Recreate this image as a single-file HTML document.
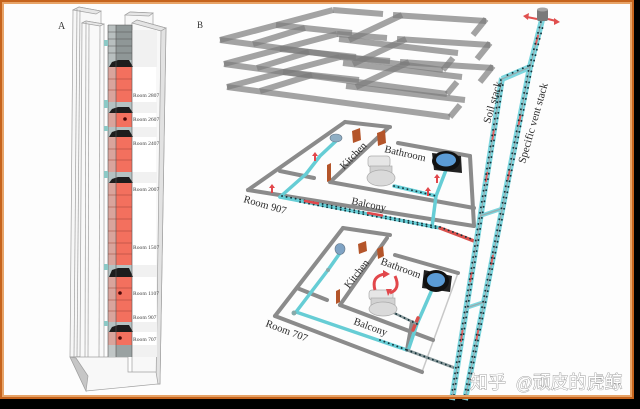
<!DOCTYPE html>
<html><head><meta charset="utf-8">
<style>
html,body{margin:0;padding:0;background:#000;}
svg{display:block;}
text{font-family:"Liberation Serif",serif;}
</style></head><body>
<svg width="640" height="409" viewBox="0 0 640 409" xmlns="http://www.w3.org/2000/svg">
<defs>
<path id="ua" d="M-1,0 L1,0 L1,-5 L3,-5 L0,-9 L-3,-5 L-1,-5Z" fill="#e2474b"/>
<g id="slab" fill="none" stroke="#7c7c7c" stroke-opacity="0.7" stroke-width="6">
 <line x1="227" y1="87" x2="450" y2="117"/>
 <line x1="227" y1="87" x2="340" y2="57"/>
 <line x1="340" y1="57" x2="390" y2="61"/>
 <line x1="400" y1="62" x2="493" y2="68"/>
 <line x1="493" y1="66" x2="480" y2="82"/>
 <line x1="450" y1="117" x2="460" y2="105"/>
 <line x1="283" y1="72" x2="359" y2="80"/>
 <line x1="346" y1="86" x2="465" y2="100"/>
 <line x1="356" y1="87" x2="409" y2="62"/>
 <line x1="260" y1="91" x2="312" y2="75"/>
</g>
</defs>
<rect width="640" height="409" fill="#000"/>
<rect x="0" y="0" width="634" height="399" fill="#fdfdfd"/>

<!-- ================= PANEL A ================= -->
<text x="58" y="29" font-size="10" fill="#333">A</text>
<g stroke="#a0a0a0" stroke-width="0.7">
 <polygon points="73,10 79,7 101,11 101,356 70,357" fill="#f7f7f7"/>
 <polygon points="73,10 79,7 101,11 96,14" fill="#e6e6e6"/>
 <line x1="77" y1="9" x2="74" y2="357"/>
 <line x1="80" y1="10" x2="77" y2="357"/>
 <polygon points="82,23 86,21 104,24 104,358 80,359" fill="#f9f9f9"/>
 <polygon points="82,23 86,21 104,24 100,26" fill="#e8e8e8"/>
 <line x1="86" y1="22" x2="85" y2="359"/>
 <line x1="89" y1="24" x2="88" y2="359"/>
 <line x1="100" y1="26" x2="99" y2="358"/>
 <polygon points="125,15 130,12 153,13 153,40 125,40" fill="#f7f7f7"/>
 <polygon points="125,15 130,12 153,13 149,16" fill="#e6e6e6"/>
 <polygon points="132,23 137,20 166,28 160,384 132,384" fill="#f8f8f8"/>
 <polygon points="132,23 137,20 166,28 161,31" fill="#e4e4e4"/>
 <polygon points="161,31 166,28 160,384 156,384" fill="#e2e2e2"/>
 <polygon points="70,357 128,357 128,372 156,372 158,384 86,391" fill="#f8f8f8"/>
 <polygon points="70,357 86,391 88,376 76,358" fill="#c6c6c6"/>
</g>
<!-- label column -->
<rect x="132" y="30" width="25" height="327" fill="#f1f1f1"/>
<g fill="#fff">
 <rect x="132.5" y="67" width="24" height="35"/>
 <rect x="132.5" y="113" width="24" height="14"/>
 <rect x="132.5" y="137" width="24" height="35"/>
 <rect x="132.5" y="183" width="24" height="82"/>
 <rect x="132.5" y="277" width="24" height="45"/>
 <rect x="132.5" y="332" width="24" height="13"/>
</g>
<!-- tower -->
<g>
 <rect x="108" y="25" width="24" height="332" fill="#b5c2c2"/>
 <rect x="116" y="25" width="16" height="35" fill="#8f9797"/>
 <rect x="108" y="25" width="8" height="35" fill="#b8bfbf"/>
 <rect x="116" y="345" width="16" height="12" fill="#9aa2a2"/>
 <rect x="108" y="345" width="8" height="12" fill="#c0c6c6"/>
 <g fill="#f3705e">
  <rect x="116" y="67" width="16" height="35"/>
  <rect x="116" y="113" width="16" height="14"/>
  <rect x="116" y="137" width="16" height="35"/>
  <rect x="116" y="183" width="16" height="82"/>
  <rect x="116" y="277" width="16" height="45"/>
  <rect x="116" y="332" width="16" height="13"/>
 </g>
 <g fill="#d9a49c">
  <rect x="108" y="67" width="8" height="35"/>
  <rect x="108" y="113" width="8" height="14"/>
  <rect x="108" y="137" width="8" height="35"/>
  <rect x="108" y="183" width="8" height="82"/>
  <rect x="108" y="277" width="8" height="45"/>
  <rect x="108" y="332" width="8" height="13"/>
 </g>
 <g stroke="#555" stroke-width="0.5">
  <line x1="108" y1="32" x2="132" y2="32"/><line x1="108" y1="39" x2="132" y2="39"/>
  <line x1="108" y1="46" x2="132" y2="46"/><line x1="108" y1="53" x2="132" y2="53"/>
 </g>
 <g stroke="#9c4237" stroke-width="0.6">
  <line x1="108" y1="79" x2="132" y2="79"/><line x1="108" y1="90" x2="132" y2="90"/>
  <line x1="108" y1="149" x2="132" y2="149"/><line x1="108" y1="160" x2="132" y2="160"/>
  <line x1="108" y1="195" x2="132" y2="195"/><line x1="108" y1="207" x2="132" y2="207"/>
  <line x1="108" y1="219" x2="132" y2="219"/><line x1="108" y1="231" x2="132" y2="231"/>
  <line x1="108" y1="243" x2="132" y2="243"/><line x1="108" y1="254" x2="132" y2="254"/>
  <line x1="108" y1="288" x2="132" y2="288"/><line x1="108" y1="300" x2="132" y2="300"/>
  <line x1="108" y1="311" x2="132" y2="311"/>
 </g>
 <g fill="#1d1d1d">
  <polygon points="109,67 112,62 118,60 129,60 133,67"/>
  <polygon points="109,113 112,109 118,107 129,107 133,113"/>
  <polygon points="109,137 112,132 118,130 129,130 133,137"/>
  <polygon points="109,183 112,179 118,177 129,177 133,183"/>
  <polygon points="109,277 112,270 118,268 129,268 133,277"/>
  <polygon points="109,332 112,327 118,325 129,325 133,332"/>
 </g>
 <g stroke="#555" stroke-width="0.6" fill="none">
  <line x1="108" y1="25" x2="108" y2="357"/>
  <line x1="116" y1="25" x2="116" y2="357"/>
  <line x1="132" y1="25" x2="132" y2="357"/>
  <line x1="108" y1="25" x2="132" y2="25"/>
 </g>
 <g fill="#8cc9c6">
  <rect x="104" y="100" width="4" height="8"/><rect x="104" y="126" width="4" height="5"/>
  <rect x="104" y="171" width="4" height="7"/><rect x="104" y="264" width="4" height="6"/>
  <rect x="104" y="321" width="4" height="5"/><rect x="104" y="40" width="4" height="6"/>
 </g>
 <g fill="#4a0808">
  <circle cx="125" cy="119" r="1.8"/><circle cx="120" cy="293" r="1.8"/><circle cx="120" cy="338" r="1.8"/>
 </g>
</g>
<g font-size="5.6" fill="#444">
 <text x="133" y="97">Room 2807</text>
 <text x="133" y="121">Room 2607</text>
 <text x="133" y="145">Room 2407</text>
 <text x="133" y="191">Room 2007</text>
 <text x="133" y="249">Room 1507</text>
 <text x="133" y="295">Room 1107</text>
 <text x="133" y="319">Room 907</text>
 <text x="133" y="341">Room 707</text>
</g>

<!-- ================= PANEL B ================= -->
<text x="197" y="28" font-size="9" fill="#333">B</text>
<use href="#slab"/>
<use href="#slab" transform="translate(-3,-23)"/>
<use href="#slab" transform="translate(-7,-47)"/>

<!-- Room 907 plan -->
<g fill="none" stroke-linecap="round" stroke-linejoin="round">
 <g stroke="#8b8b8b" stroke-width="4">
  <line x1="248" y1="190" x2="345" y2="122"/>
  <line x1="345" y1="122" x2="390" y2="127"/>
  <line x1="398" y1="143" x2="470" y2="156"/>
  <line x1="470" y1="156" x2="474" y2="226"/>
  <line x1="248" y1="190" x2="474" y2="226"/>
  <line x1="280" y1="171" x2="314" y2="178"/>
  <line x1="330" y1="182" x2="474" y2="208"/>
  <line x1="330" y1="182" x2="388" y2="128"/>
 </g>
 <g stroke="#66cdd5" stroke-width="3.5">
  <polyline points="336,141 320,156 306,174 280,197"/>
  <polyline points="280,197 440,228"/>
  <polyline points="446,170 436,196 432,227"/>
  <polyline points="394,186 436,196"/>
 </g>
 <polyline points="440,228 474,241" stroke="#d9504c" stroke-width="3.5"/>
 <g stroke="#14323a" stroke-width="1.8" stroke-linecap="round" stroke-dasharray="0.1 4.5">
  <polyline points="282,196 440,227 474,240"/>
  <polyline points="300,202 440,229"/>
  <polyline points="394,186 436,196"/>
 </g>
 <g stroke="#e2474b" stroke-width="2.5">
  <line x1="305" y1="201" x2="318" y2="203.5"/>
  <line x1="368" y1="213" x2="382" y2="215.5"/>
 </g>
</g>
<ellipse cx="336" cy="138" rx="6" ry="4" fill="#8eaec4" stroke="#678" stroke-width="0.6"/>
<g stroke="#aaa" stroke-width="0.7">
 <rect x="368" y="156" width="22" height="11" rx="3" fill="#e6e6e6"/>
 <rect x="370" y="166" width="22" height="13" fill="#d2d2d2"/>
 <ellipse cx="381" cy="178" rx="14" ry="8" fill="#dadada"/>
</g>
<polygon points="432,153 461,156 462,173 434,170" fill="#222"/>
<ellipse cx="446" cy="161" rx="14" ry="10" fill="#111"/>
<ellipse cx="446" cy="160" rx="10" ry="6.5" fill="#5b9bd5"/>
<g fill="#b4552a">
 <polygon points="352,131 360,128 361,140 353,143"/>
 <polygon points="377,133 385,130 386,143 378,146"/>
 <polygon points="327,165 331,163 331,180 327,182"/>
</g>
<use href="#ua" x="315" y="161"/>
<use href="#ua" x="272" y="193"/>
<use href="#ua" x="437" y="183"/>
<use href="#ua" x="428" y="196"/>
<g font-size="10.5" fill="#2a2a2a">
 <text transform="translate(344,170) rotate(-46)">Kitchen</text>
 <text transform="translate(384,152) rotate(13)">Bathroom</text>
 <text transform="translate(351,204) rotate(12)">Balcony</text>
 <text transform="translate(243,202) rotate(16)">Room 907</text>
</g>

<!-- Room 707 plan -->
<g fill="none" stroke-linecap="round" stroke-linejoin="round">
 <line x1="458" y1="273" x2="422" y2="372" stroke="#c8c8c8" stroke-width="1.5"/>
 <g stroke="#8b8b8b" stroke-width="4">
  <line x1="275" y1="316" x2="343" y2="228"/>
  <line x1="343" y1="228" x2="390" y2="235"/>
  <line x1="395" y1="255" x2="458" y2="273"/>
  <line x1="275" y1="316" x2="422" y2="372"/>
  <line x1="340" y1="305" x2="433" y2="340"/>
  <line x1="340" y1="305" x2="387" y2="238"/>
  <line x1="297" y1="288" x2="327" y2="300"/>
  <line x1="412" y1="322" x2="407" y2="350"/>
 </g>
 <g stroke="#66cdd5" stroke-width="3.5">
  <polyline points="340,253 328,270 296,312"/>
  <polyline points="296,312 407,350"/>
  <polyline points="431,292 417,324 409,348"/>
 </g>
 <polyline points="407,350 455,368" stroke="#8a9a9c" stroke-width="3"/>
 <polyline points="418,318 413,330" stroke="#d9504c" stroke-width="3.5"/>
 <polyline points="392,312 417,324" stroke="#8a9a9c" stroke-width="2.5"/>
 <g stroke="#14323a" stroke-width="1.8" stroke-linecap="round" stroke-dasharray="0.1 4.5">
  <polyline points="407,350 455,368"/>
  <polyline points="392,312 417,324"/>
  <polyline points="380,340 407,350"/>
 </g>
</g>
<ellipse cx="340" cy="249" rx="5" ry="5.5" fill="#7fa3c4" stroke="#678" stroke-width="0.6"/>
<circle cx="294" cy="313" r="2.5" fill="#8aa"/>
<circle cx="328" cy="270" r="2" fill="#8aa"/>
<g stroke="#aaa" stroke-width="0.7">
 <rect x="369" y="290" width="24" height="10" rx="3" fill="#e6e6e6"/>
 <rect x="371" y="298" width="24" height="12" fill="#d2d2d2"/>
 <ellipse cx="383" cy="309" rx="14" ry="7" fill="#dadada"/>
</g>
<g fill="none" stroke="#e2474b" stroke-width="3">
 <path d="M375,290 Q371,276 385,274"/>
 <path d="M395,276 Q401,289 390,293"/>
</g>
<g fill="#e2474b">
 <polygon points="383,270 390,274 383,278"/>
 <polygon points="392,289 388,296 386,289"/>
</g>
<polygon points="424,270 452,276 450,292 422,288" fill="#222"/>
<ellipse cx="436" cy="281" rx="13" ry="11" fill="#111"/>
<ellipse cx="436" cy="280" rx="9" ry="7" fill="#5b9bd5"/>
<g fill="#b4552a">
 <polygon points="358,244 366,241 367,251 359,254"/>
 <polygon points="377,249 383,246 384,256 378,259"/>
 <polygon points="336,291 340,289 340,302 336,304"/>
</g>
<g font-size="10.5" fill="#2a2a2a">
 <text transform="translate(349,289) rotate(-52)">Kitchen</text>
 <text transform="translate(380,264) rotate(20)">Bathroom</text>
 <text transform="translate(353,324) rotate(20)">Balcony</text>
 <text transform="translate(265,326) rotate(21)">Room 707</text>
</g>

<!-- stacks -->
<g fill="none" stroke-linecap="butt" stroke-linejoin="round">
 <g stroke="#7dd6de" stroke-width="6">
  <polyline points="542,20 530,67 465,400"/>
  <polyline points="502,78 452,400"/>
  <line x1="530" y1="67" x2="502" y2="79"/>
 </g>
 <g stroke="#7dd6de" stroke-width="4">
  <line x1="480" y1="216" x2="501" y2="209"/>
  <line x1="466" y1="308" x2="484" y2="302"/>
 </g>
 <g stroke="#9aabae" stroke-width="1.2">
  <polyline points="542,20 530,67 465,400"/>
  <polyline points="502,78 452,400"/>
  <line x1="530" y1="67" x2="502" y2="79"/>
  <line x1="480" y1="216" x2="501" y2="209"/>
  <line x1="466" y1="308" x2="484" y2="302"/>
 </g>
 <g stroke="#e06060" stroke-width="2">
  <line x1="538.2" y1="35" x2="535.6" y2="45"/>
  <line x1="520.6" y1="115" x2="518.6" y2="125"/>
  <line x1="509.8" y1="170" x2="507.8" y2="180"/>
  <line x1="493" y1="255" x2="491" y2="265"/>
  <line x1="478.3" y1="330" x2="476.4" y2="340"/>
  <line x1="493.9" y1="130" x2="492.3" y2="140"/>
  <line x1="487.3" y1="172" x2="485.75" y2="182"/>
  <line x1="471.7" y1="272" x2="470.1" y2="282"/>
  <line x1="462.6" y1="330" x2="460.75" y2="342"/>
 </g>
 <g stroke="#14323a" stroke-width="1.8" stroke-linecap="round" stroke-dasharray="0.1 5.5">
  <polyline points="540.8,22 528.8,69 463.8,400"/>
  <polyline points="543.2,25 531.2,72 466.2,400" stroke-dashoffset="2.5"/>
  <polyline points="500.8,80 450.8,400"/>
  <polyline points="503.2,82 453.2,400" stroke-dashoffset="2.5"/>
  <line x1="528" y1="66" x2="503" y2="77"/>
 </g>
</g>
<rect x="537" y="9" width="11" height="12" rx="2" fill="#7a7a7a"/>
<ellipse cx="542.5" cy="9.5" rx="5.5" ry="2" fill="#a5a5a5"/>
<g stroke="#e0504f" stroke-width="2" fill="#e0504f">
 <line x1="537" y1="19" x2="527" y2="17"/>
 <line x1="548" y1="19" x2="556" y2="21"/>
 <polygon points="523,16 529,13 528,20" stroke="none"/>
 <polygon points="560,22 554,18 554,25" stroke="none"/>
</g>
<g font-size="11" fill="#2a2a2a">
 <text transform="translate(490,124) rotate(-74)">Soil stack</text>
 <text transform="translate(525,164) rotate(-74)">Specific vent stack</text>
</g>

<!-- watermark -->
<g font-family="'Noto Sans CJK SC','WenQuanYi Zen Hei',sans-serif" font-size="18" fill="#ffffff" stroke="#9a9a9a" stroke-width="0.9" paint-order="stroke">
 <text x="470" y="388.5">知乎</text>
 <text x="516" y="388.5">@顽皮的虎鲸</text>
</g>

<!-- frame -->
<rect x="1" y="1" width="632" height="397" fill="none" stroke="#c6641d" stroke-width="2"/>
<rect x="3" y="3" width="628" height="393" fill="none" stroke="#e8a468" stroke-width="2"/>
</svg>
</body></html>
